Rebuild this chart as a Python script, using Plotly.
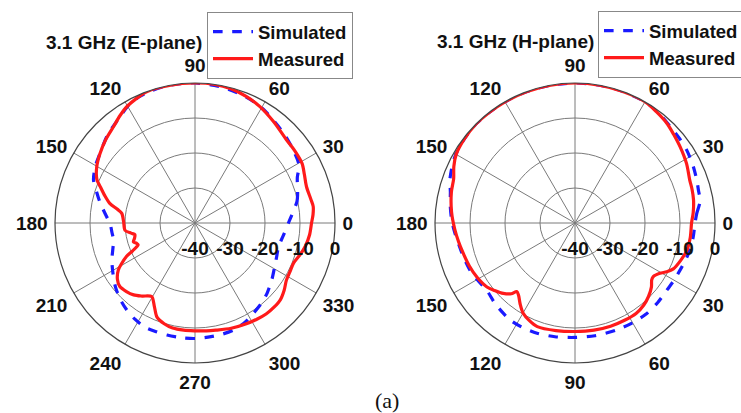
import plotly.graph_objects as go

# ---------------- data (dB vs angle in degrees) ----------------
e_sim_theta = [0, 12, 16, 24, 29, 37, 45, 57, 62, 70, 78, 82, 90, 96, 102, 108, 114, 120, 125, 135, 144, 150, 157, 163, 168, 176, 180, 186, 192, 198, 204, 212, 219, 226, 232, 238, 244, 250, 256, 263, 270, 278, 284, 290, 297, 303, 310, 316, 324, 331, 338, 344, 352, 360]
e_sim_r     = [-13.3, -10.2, -9.5, -8, -6, -5, -4, -2.4, -1.7, -1, -0.5, -0.3, 0, 0, 0, -0.2, -0.6, -1.5, -2.8, -4.6, -6.4, -7.2, -8.5, -10.7, -12.3, -14.7, -15.7, -16.1, -16.2, -15.3, -14, -12.4, -10.8, -9.4, -8.4, -7.6, -7, -7, -7, -7, -7, -7.2, -7.3, -7.5, -8.3, -9.3, -10.3, -11.3, -12.8, -14, -14.8, -15.2, -14.5, -13.3]

e_mea_theta = [0, 4, 8, 11.5, 18, 24, 29, 36, 42, 52, 61, 68, 75, 82, 90, 100, 110, 120, 125, 130, 137, 144, 150, 156, 159, 163, 167, 170, 172.5, 179, 186, 189, 191, 194, 197, 199, 201, 204, 206, 209, 211.5, 216, 220, 225, 229.5, 234, 239.5, 244, 248, 253, 258, 264, 270, 276, 281, 289, 297, 303, 308, 313, 318, 323, 328, 333, 338, 343, 348, 354, 360]
e_mea_r     = [-6.7, -6.2, -5.9, -6.2, -6.5, -5.8, -5, -4.8, -4.7, -3.4, -1.9, -1, -0.3, 0, 0, 0, 0, -1.4, -2.6, -3.9, -5.1, -6.4, -7.6, -9.3, -11, -13, -15, -17.5, -18.9, -19.6, -19.9, -21.5, -22.5, -22.2, -21.6, -22.3, -22.6, -20.5, -18.2, -16, -14.3, -12.6, -11.9, -12.3, -13, -14.2, -15.6, -13.5, -11, -9.9, -9.3, -9.2, -9.2, -9, -8.8, -8.2, -7.7, -7.3, -7, -7, -7.2, -8.1, -9.2, -9.5, -9.6, -8.7, -7.8, -7.1, -6.7]

h_sim_theta = [0, 4.5, 10, 15, 19.5, 26, 33, 39, 45, 52, 60, 70, 80, 90, 100, 110, 120, 128, 137, 145, 151, 157, 161, 166, 172, 179, 185, 190, 197, 204, 210, 217, 226, 236, 243, 251, 260, 270, 280, 291, 300, 308, 316, 324, 330, 336, 341, 347, 353, 360]
h_sim_r     = [-5.7, -5.1, -3.7, -3.5, -3.1, -2.5, -1.9, -1.6, -1.3, -0.6, 0, 0, 0, 0, 0, 0, 0, 0, 0, -0.4, -0.8, -1.6, -2.2, -3.3, -4, -4.8, -5.6, -6.2, -6.7, -7.1, -7.7, -8.3, -7.5, -6.7, -6.6, -6.7, -7, -7.3, -7.3, -7.2, -7.1, -7, -7.2, -7.5, -7.3, -7.1, -6.7, -6.3, -6, -5.7]

h_mea_theta = [0, 5, 11, 16, 20.5, 28, 36, 42, 47, 54, 60, 70, 80, 90, 100, 110, 120, 128, 135, 143, 150, 155, 160, 166, 175, 183, 189, 195, 202, 209, 216, 220, 224.5, 228, 229.6, 232, 236, 240, 245, 250, 260, 270, 280, 289, 297, 304, 310, 315, 320, 323.4, 325.6, 329.4, 332, 335, 341, 346.4, 353, 360]
h_mea_r     = [-6.7, -6.1, -5.5, -5.2, -5, -3.9, -2.9, -2.1, -1.3, -0.6, 0, 0, 0, 0, 0, 0, 0, 0, 0, -0.3, -0.8, -1.8, -3.1, -3.6, -4.6, -5.6, -6.3, -6.9, -7.4, -8, -8.9, -10, -11.3, -12.8, -14.3, -13.8, -12, -10.3, -9.2, -8.5, -8.8, -9, -8.9, -8.8, -8.8, -8.8, -9.4, -10.3, -11.5, -12.7, -12.9, -11.8, -10.3, -9, -7.9, -7.1, -6.8, -6.7]

ang_vals = [0, 30, 60, 90, 120, 150, 180, 210, 240, 270, 300, 330]
e_ang_text = ["0", "30", "60", "90", "120", "150", "180", "210", "240", "270", "300", "330"]
h_ang_text = ["0", "30", "60", "90", "120", "150", "180", "150", "120", "90", "60", "30"]
rad_vals = [-40, -30, -20, -10, 0]
rad_text = ["-40", "-30", "-20", "-10", "0"]

titles = ["3.1 GHz (E-plane)", "3.1 GHz (H-plane)"]

W, H = 741, 413
FONT = "Liberation Sans, Arial, sans-serif"
BLUE = "#1a1aff"
RED = "#ff1a1a"

fig = go.Figure()

def add_pair(polar, legend, th_s, r_s, th_m, r_m):
    fig.add_trace(go.Scatterpolar(theta=th_s, r=r_s, mode="lines", name="Simulated",
                                  line=dict(color=BLUE, width=3.2, dash="dash", shape="spline", smoothing=0.8),
                                  subplot=polar, legend=legend))
    fig.add_trace(go.Scatterpolar(theta=th_m, r=r_m, mode="lines", name="Measured",
                                  line=dict(color=RED, width=3.2, shape="spline", smoothing=0.8),
                                  subplot=polar, legend=legend))

add_pair("polar", "legend", e_sim_theta, e_sim_r, e_mea_theta, e_mea_r)
add_pair("polar2", "legend2", h_sim_theta, h_sim_r, h_mea_theta, h_mea_r)

def polar_cfg(x0, x1, ticktext):
    return dict(
        domain=dict(x=[x0 / W, x1 / W], y=[(H - 363) / H, (H - 83) / H]),
        bgcolor="rgba(0,0,0,0)",
        angularaxis=dict(
            tickmode="array", tickvals=ang_vals, ticktext=ticktext,
            direction="counterclockwise", rotation=0,
            showgrid=True, gridcolor="#7a7a7a", gridwidth=1,
            showline=True, linecolor="#444444", linewidth=1.2,
            ticks="outside", ticklen=3, tickcolor="rgba(0,0,0,0)",
            tickfont=dict(family=FONT, size=19, color="#111", weight="bold"),
        ),
        radialaxis=dict(
            range=[-40, 0], tickmode="array", tickvals=rad_vals, ticktext=rad_text,
            angle=0, side="clockwise", showline=False,
            ticks="outside", ticklen=9, tickcolor="rgba(0,0,0,0)",
            showgrid=True, gridcolor="#7a7a7a", gridwidth=1,
            tickfont=dict(family=FONT, size=19, color="#111", weight="bold"),
        ),
    )

def legend_cfg(x0, y0):
    return dict(
        x=x0 / W, y=1 - y0 / H, xanchor="left", yanchor="top",
        bgcolor="white", bordercolor="#888888", borderwidth=1,
        font=dict(family=FONT, size=18.5, color="#111", weight="bold"),
        itemwidth=40, tracegroupgap=0,
    )

fig.update_layout(
    width=W, height=H,
    margin=dict(l=0, r=0, t=0, b=0, autoexpand=False),
    paper_bgcolor="white", plot_bgcolor="white",
    polar=polar_cfg(55, 335, e_ang_text),
    polar2=polar_cfg(435, 715, h_ang_text),
    legend=legend_cfg(207, 12),
    legend2=legend_cfg(598, 11),
    showlegend=True,
)

fig.add_annotation(text=titles[0], x=124 / W, y=1 - 43 / H, xref="paper", yref="paper",
                   showarrow=False, xanchor="center", yanchor="middle",
                   font=dict(family=FONT, size=19, color="#111", weight="bold"))
fig.add_annotation(text=titles[1], x=515 / W, y=1 - 42 / H, xref="paper", yref="paper",
                   showarrow=False, xanchor="center", yanchor="middle",
                   font=dict(family=FONT, size=19, color="#111", weight="bold"))
fig.add_annotation(text="(a)", x=387 / W, y=1 - 400 / H, xref="paper", yref="paper",
                   showarrow=False, xanchor="center", yanchor="middle",
                   font=dict(family="Liberation Serif, Times New Roman, serif", size=22, color="#111"))

fig.write_html("out.html", config={"displayModeBar": False},
               post_script="document.body.style.margin='0';document.body.style.overflow='hidden';")
